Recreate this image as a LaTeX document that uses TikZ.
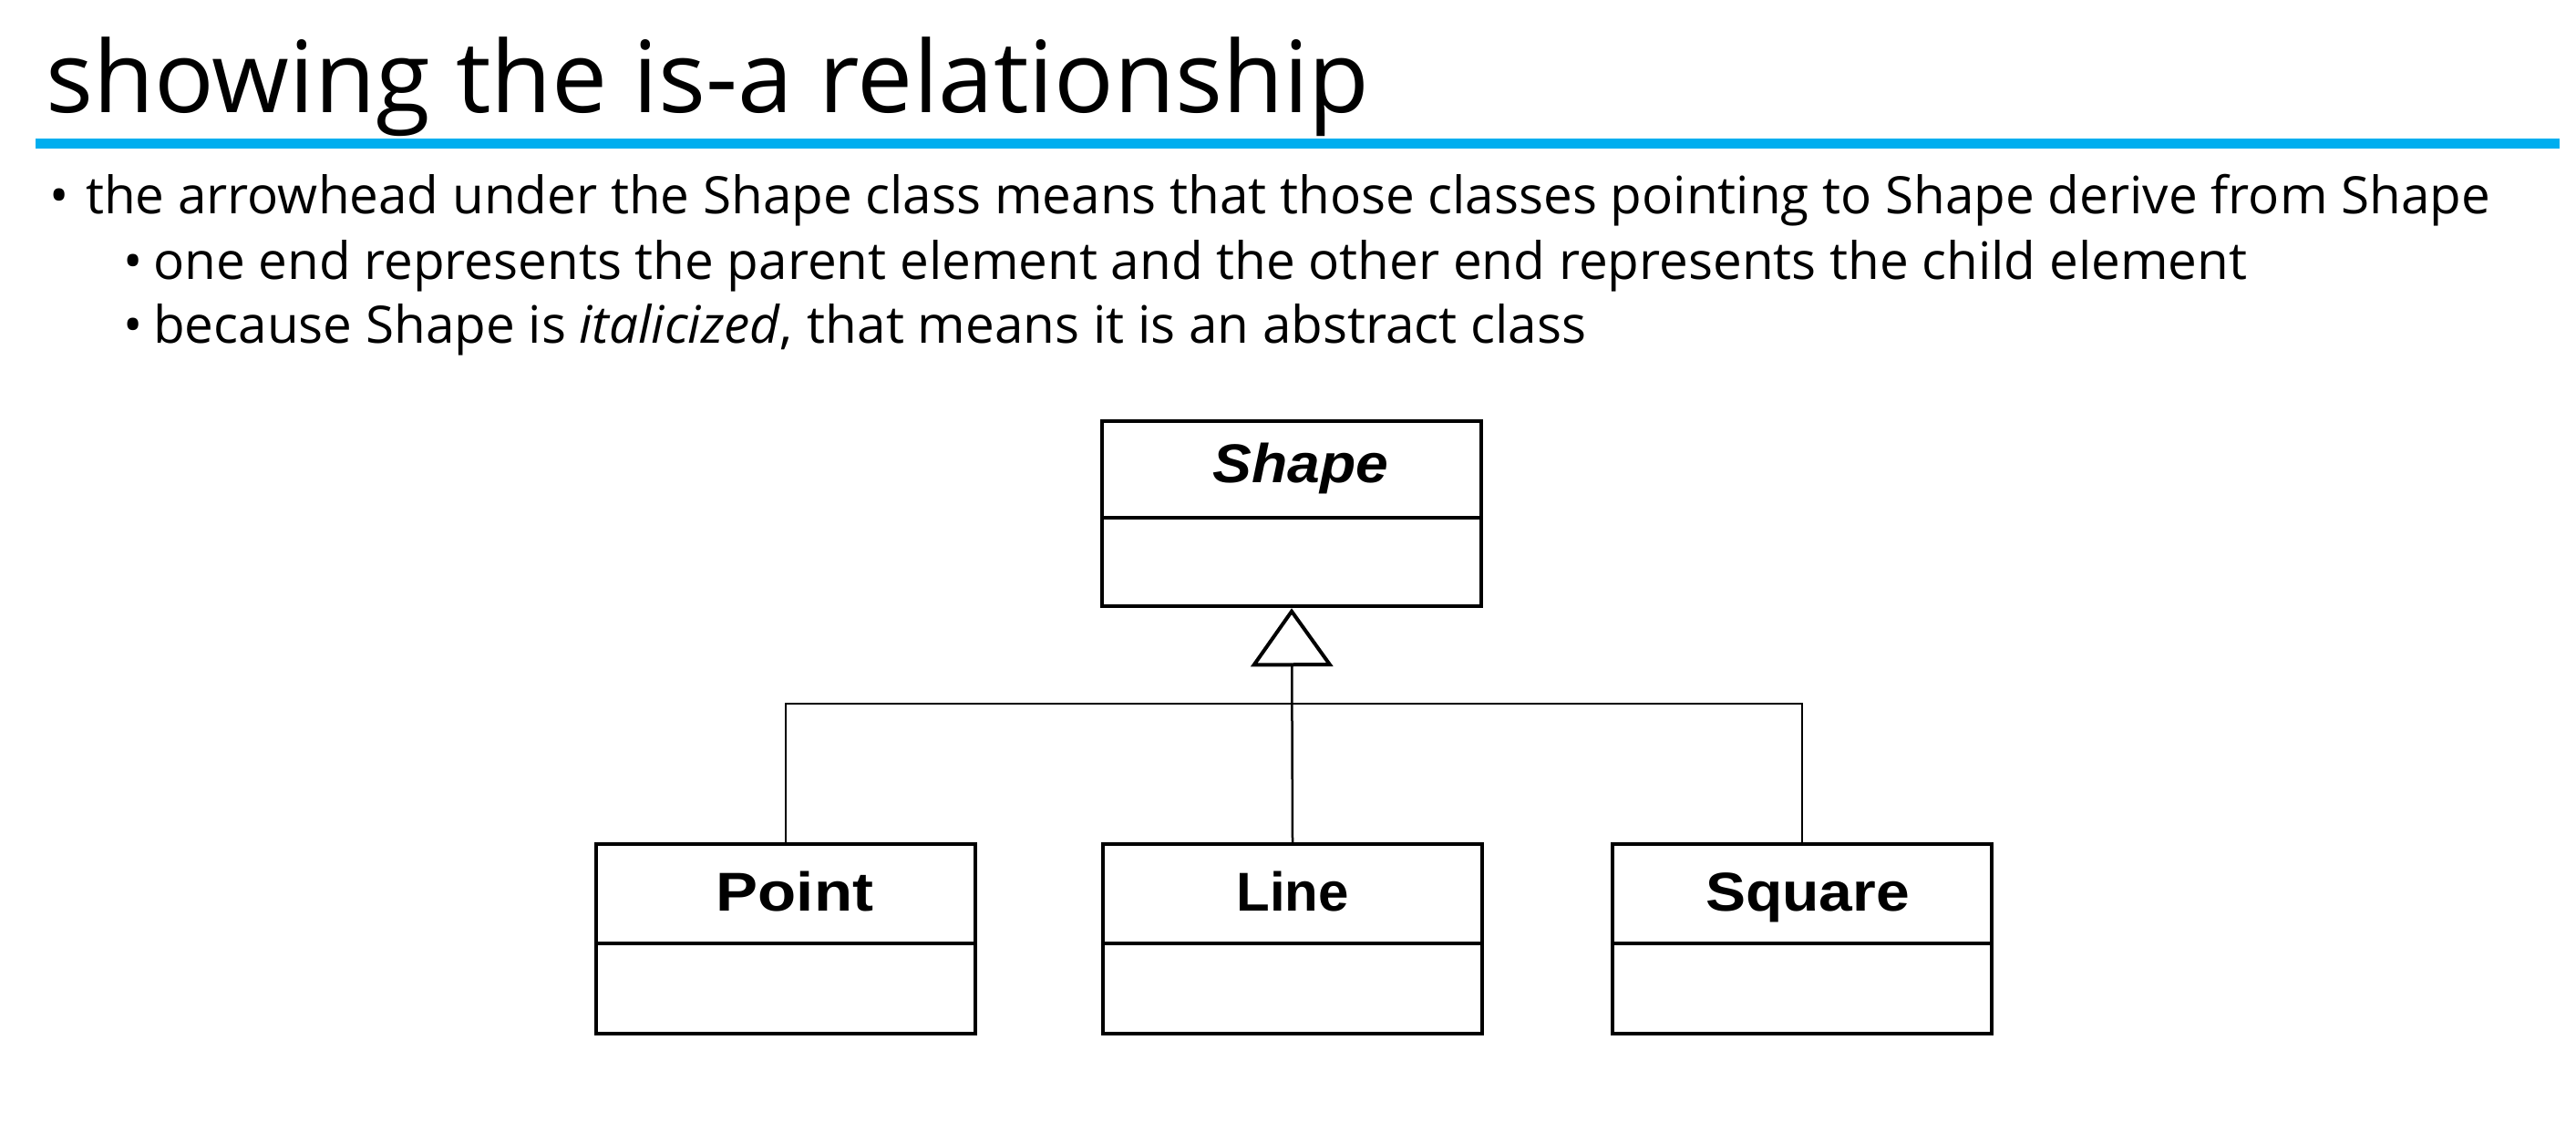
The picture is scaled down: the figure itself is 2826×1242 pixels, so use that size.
\documentclass[tikz,border=0pt]{standalone}
\usepackage{graphicx}
\usepackage{fontspec}
\setmainfont{Open Sans}
\newfontfamily\umlfont{Liberation Sans}
\usetikzlibrary{arrows.meta}
\definecolor{rulecyan}{RGB}{0,174,239}

\begin{document}
\begin{tikzpicture}[x=1pt,y=-1pt,
  titletext/.style={anchor=base west, inner sep=0pt, font=\fontsize{109}{120}\selectfont},
  bodytext/.style={anchor=base west, inner sep=0pt, font=\fontsize{56.6}{66}\selectfont},
  umlclass/.style={draw, line width=4.5pt, minimum width=416pt, inner sep=0pt},
  umlname/.style={anchor=base, inner sep=0pt, font=\umlfont\bfseries\fontsize{60}{70}\selectfont},
  umllink/.style={line width=2.5pt},
]
\useasboundingbox (0,0) rectangle (2826,1242);
\fill[white] (0,0) rectangle (2826,1242);

% heading and its rule
\node[titletext] (title) at (50,123) {showing the is-a relationship};
\fill[rulecyan] (39,152) rectangle (2808,163);

% bullet list
\node[bodytext] (dot1) at (54,234) {•};
\node[bodytext] (txt1) at (94,234) {the arrowhead under the Shape class means that those classes pointing to Shape derive from Shape};
\node[bodytext] (dot2) at (135,306) {•};
\node[bodytext] (txt2) at (168,306) {one end represents the parent element and the other end represents the child element};
\node[bodytext] (dot3) at (135,376) {•};
\node[bodytext] (txt3) at (168,376) {because Shape is \textit{italicized},\hspace{0.3em}that means it is an abstract class};

% class boxes
\node[umlclass, minimum height=203pt] (shape) at (1417,563.5) {};
\node[umlclass, minimum height=208pt] (point) at (862,1030) {};
\node[umlclass, minimum height=208pt] (line)  at (1418,1030) {};
\node[umlclass, minimum height=208pt] (square) at (1977,1030) {};

% compartment dividers
\draw[line width=4.5pt] ([yshift=-108pt]shape.north west) -- ([yshift=-108pt]shape.north east);
\foreach \c in {point,line,square}
  \draw[line width=4.5pt] ([yshift=-111pt]\c.north west) -- ([yshift=-111pt]\c.north east);

% class names
\node[umlname, font=\umlfont\bfseries\itshape\fontsize{60}{70}\selectfont] (shapename) at ([xshift=10pt,yshift=-70pt]shape.north) {\scalebox{1.07}[1]{Shape}};
\node[umlname] (pointname)  at ([xshift=10pt,yshift=-76pt]point.north) {\scalebox{1.15}[1]{Point}};
\node[umlname] (linename)   at ([xshift=0pt,yshift=-76pt]line.north) {Line};
\node[umlname] (squarename) at ([xshift=6pt,yshift=-76pt]square.north) {\scalebox{1.1}[1]{Square}};

% generalisation connectors
\coordinate (junction) at (1418,772);
\draw[umllink] (point.north) |- (junction) -| (square.north);
\draw[umllink, -{Triangle[open, length=64pt, width=90pt, line width=4pt]}] (line.north) -- (shape.south);
\end{tikzpicture}
\end{document}
